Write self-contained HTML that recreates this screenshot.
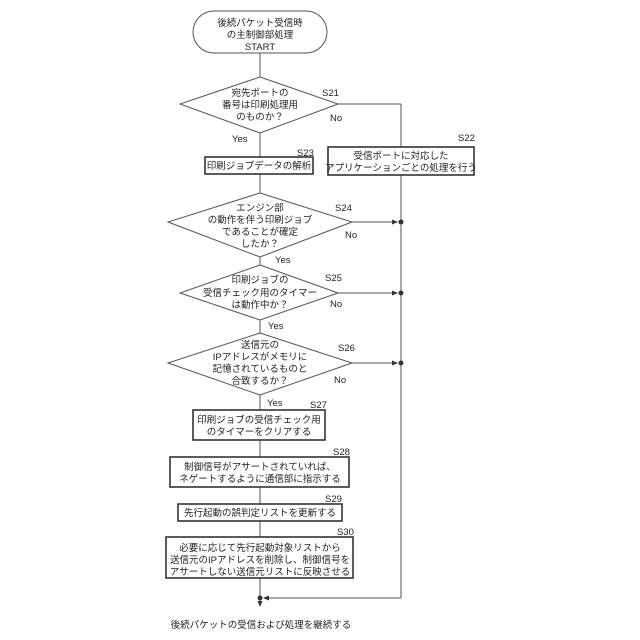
<!DOCTYPE html><html><head><style>body{margin:0;background:#fff}svg{display:block}text{font-family:"Liberation Sans","Noto Sans CJK JP",sans-serif;font-size:9.5px;fill:#222}</style></head><body>
<svg width="640" height="640" viewBox="0 0 640 640">
<defs><marker id="a" markerWidth="6" markerHeight="6" refX="5" refY="3" orient="auto"><path d="M0,0.5L6,3L0,5.5z" fill="#333"/></marker></defs>
<g stroke="#555" stroke-width="1" fill="none">
<rect x="193" y="11" width="134" height="42" rx="21" fill="#fff"/>
<line x1="260" y1="53" x2="260" y2="77"/>
<polygon points="260,77 338,104 260,133 180,104" fill="#fff"/>
<line x1="260" y1="133" x2="260" y2="157"/>
<line x1="338" y1="104" x2="401" y2="104"/>
<line x1="401" y1="104" x2="401" y2="147"/>
<line x1="401" y1="175" x2="401" y2="598"/>
<line x1="401" y1="598" x2="264" y2="598" marker-end="url(#a)"/>
<line x1="313" y1="157" x2="313" y2="157"/>
<line x1="260" y1="174" x2="260" y2="193"/>
<polygon points="260,193 352,222 260,257 168,222" fill="#fff"/>
<line x1="352" y1="222" x2="397" y2="222" marker-end="url(#a)"/>
<line x1="260" y1="257" x2="260" y2="265"/>
<polygon points="260,265 338,293 260,320 180,293" fill="#fff"/>
<line x1="338" y1="293" x2="397" y2="293" marker-end="url(#a)"/>
<line x1="260" y1="320" x2="260" y2="333"/>
<polygon points="260,333 352,363 260,395 168,363" fill="#fff"/>
<line x1="352" y1="363" x2="397" y2="363" marker-end="url(#a)"/>
<line x1="260" y1="395" x2="260" y2="410"/>
<line x1="260" y1="440" x2="260" y2="457"/>
<line x1="260" y1="487" x2="260" y2="504"/>
<line x1="260" y1="521" x2="260" y2="537"/>
<line x1="260" y1="578" x2="260" y2="606" marker-end="url(#a)"/>
</g>
<g stroke="#333" stroke-width="1.6" fill="#fff">
<rect x="328" y="147" width="146" height="28"/>
<rect x="205" y="157" width="108" height="17"/>
<rect x="193" y="410" width="132" height="30"/>
<rect x="170" y="457" width="179" height="30"/>
<rect x="178" y="504" width="164" height="17"/>
<rect x="166" y="537" width="187" height="41"/>
</g>
<g fill="#333"><circle cx="401" cy="222" r="2.5"/><circle cx="401" cy="293" r="2.5"/><circle cx="401" cy="363" r="2.5"/><circle cx="260" cy="598" r="2.5"/></g>
<g text-anchor="middle">
<text x="260" y="26">後続パケット受信時</text><text x="260" y="38">の主制御部処理</text><text x="260" y="50">START</text>
<text x="260" y="96">宛先ポートの</text><text x="260" y="108">番号は印刷処理用</text><text x="260" y="120">のものか？</text>
<text x="401" y="159">受信ポートに対応した</text><text x="401" y="171">アプリケーションごとの処理を行う</text>
<text x="259" y="169">印刷ジョブデータの解析</text>
<text x="260" y="211">エンジン部</text><text x="260" y="223">の動作を伴う印刷ジョブ</text><text x="260" y="235">であることが確定</text><text x="260" y="247">したか？</text>
<text x="260" y="283">印刷ジョブの</text><text x="260" y="296">受信チェック用のタイマー</text><text x="260" y="308">は動作中か？</text>
<text x="260" y="348">送信元の</text><text x="260" y="360">IPアドレスがメモリに</text><text x="260" y="372">記憶されているものと</text><text x="260" y="384">合致するか？</text>
<text x="259" y="423">印刷ジョブの受信チェック用</text><text x="259" y="435">のタイマーをクリアする</text>
<text x="260" y="470">制御信号がアサートされていれば、</text><text x="260" y="482">ネゲートするように通信部に指示する</text>
<text x="260" y="516">先行起動の誤判定リストを更新する</text>
<text x="260" y="551">必要に応じて先行起動対象リストから</text><text x="260" y="563">送信元のIPアドレスを削除し、制御信号を</text><text x="260" y="575">アサートしない送信元リストに反映させる</text>
<text x="261" y="628">後続パケットの受信および処理を継続する</text>
</g>
<g>
<text x="322" y="96">S21</text><text x="330" y="121">No</text><text x="232" y="142">Yes</text>
<text x="458" y="141">S22</text><text x="297" y="156">S23</text>
<text x="335" y="211">S24</text><text x="345" y="238">No</text><text x="275" y="263">Yes</text>
<text x="325" y="281">S25</text><text x="330" y="307">No</text><text x="268" y="329">Yes</text>
<text x="338" y="351">S26</text><text x="334" y="383">No</text><text x="267" y="406">Yes</text>
<text x="310" y="408">S27</text><text x="333" y="455">S28</text><text x="325" y="502">S29</text><text x="337" y="535">S30</text>
</g>
</svg></body></html>
